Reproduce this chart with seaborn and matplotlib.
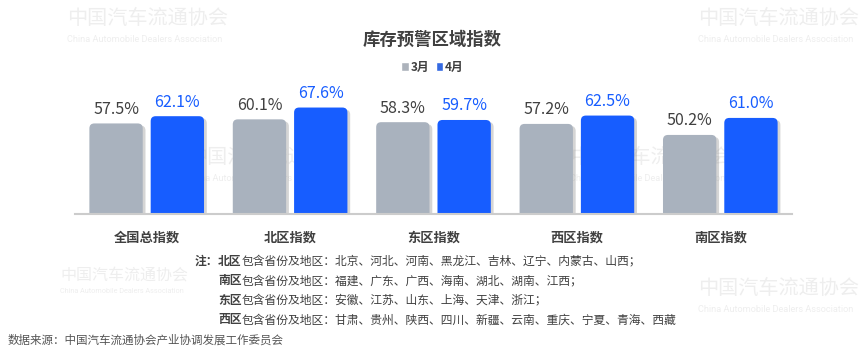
import numpy as np
import pandas as pd
import seaborn as sns
import matplotlib.pyplot as plt
from matplotlib.patches import FancyBboxPatch
import matplotlib.patheffects as pe

# data
regions = ["全国总指数", "北区指数", "东区指数", "西区指数", "南区指数"]
months = ["3月", "4月"]
march = [57.5, 60.1, 58.3, 57.2, 50.2]
april = [62.1, 67.6, 59.7, 62.5, 61.0]

title = "库存预警区域指数"
notes = [("北区", "包含省份及地区：北京、河北、河南、黑龙江、吉林、辽宁、内蒙古、山西；"),
         ("南区", "包含省份及地区：福建、广东、广西、海南、湖北、湖南、江西；"),
         ("东区", "包含省份及地区：安徽、江苏、山东、上海、天津、浙江；"),
         ("西区", "包含省份及地区：甘肃、贵州、陕西、四川、新疆、云南、重庆、宁夏、青海、西藏")]
source = "数据来源：中国汽车流通协会产业协调发展工作委员会"

GRAY = "#A9B2BE"
BLUE = "#175DFF"
DARK = "#404040"

df = pd.DataFrame({
    "region": regions * 2,
    "month": [months[0]] * len(regions) + [months[1]] * len(regions),
    "value": march + april,
})

sns.set_style("white")
plt.rcParams["font.family"] = ["Noto Sans CJK SC", "DejaVu Sans"]

W, H = 865, 356
fig = plt.figure(figsize=(W / 100, H / 100), dpi=100)
ax = fig.add_axes([75 / W, 1 - 214 / H, (792 - 75) / W, (214 - 88) / H])
ax.set_facecolor("none")

sns.barplot(data=df, x="region", y="value", hue="month", order=regions,
            hue_order=months, palette=[GRAY, BLUE], width=0.855, gap=0.13,
            ax=ax)
ax.set_xlim(-0.5, len(regions) - 0.5)
ax.set_ylim(0, 80)

# rounded bars with soft shadow
fig.canvas.draw()
bb = ax.get_window_extent()
px_x = bb.width / (ax.get_xlim()[1] - ax.get_xlim()[0])
px_y = bb.height / (ax.get_ylim()[1] - ax.get_ylim()[0])
r = 5 / px_x
for cont, col in zip(ax.containers, [GRAY, BLUE]):
    for bar in cont:
        x0, w, h = bar.get_x(), bar.get_width(), bar.get_height()
        fb = FancyBboxPatch((x0, -10), w, h + 10,
                            boxstyle=f"round,pad=0,rounding_size={r}",
                            mutation_aspect=px_x / px_y,
                            facecolor=col, edgecolor="none", zorder=2)
        fb.set_path_effects([pe.SimplePatchShadow(offset=(2, -1.5), shadow_rgbFace="#888888", alpha=0.35),
                             pe.Normal()])
        ax.add_patch(fb)
        bar.set_visible(False)
    ax.bar_label(cont, labels=[f"{v:.1f}%" for v in cont.datavalues], padding=4,
                 fontsize=11.5, color=DARK if col == GRAY else BLUE)

# axis styling
sns.despine(ax=ax, left=True)
ax.spines["bottom"].set_color("#CCCCCC")
ax.spines["bottom"].set_linewidth(1.5)
ax.set_yticks([])
ax.set_xlabel("")
ax.set_ylabel("")
ax.set_xticks(np.arange(-0.5, len(regions)), minor=True)
ax.tick_params(axis="x", which="minor", length=4, color="#CCCCCC", width=1.2, direction="out")
ax.tick_params(axis="x", which="major", length=0, pad=12)
for lbl in ax.get_xticklabels():
    lbl.set_fontweight("bold")
    lbl.set_fontsize(9.5)
    lbl.set_color(DARK)

sns.move_legend(ax, "center", bbox_to_anchor=(0.5, 1 - 67 / H), bbox_transform=fig.transFigure,
                ncol=2, title=None, frameon=False, prop={"weight": "bold", "size": 8.5},
                handlelength=0.6, handleheight=0.9, handletextpad=0.15, columnspacing=0.6)
for t in ax.get_legend().get_texts():
    t.set_color(DARK)

fig.text(432.5 / W, 1 - 40 / H, title, ha="center", va="center", fontsize=12.5,
         fontweight="bold", color=DARK)

# watermarks (x, y, size)
for wx, wy, ws in [(67, 18, 14.5), (698, 18, 14.5), (187, 157, 14.5),
                   (570, 157, 14.5), (60, 275, 11.5), (698, 288, 14.5)]:
    fig.text(wx / W, 1 - wy / H, "中国汽车流通协会", fontsize=ws, color="#EEEEEE",
             va="center", ha="left", zorder=-5)
    fig.text(wx / W, 1 - (wy + ws * 1.45) / H, "China Automobile Dealers Association",
             fontsize=ws * 0.455, color="#EEEEEE", va="center", ha="left", zorder=-5,
             family=["Roboto", "DejaVu Sans"])

# notes
fig.text(218 / W, 1 - 261 / H, "注：", ha="right", va="center", fontsize=8.5,
         fontweight="bold", color=DARK)
for i, (reg, rest) in enumerate(notes):
    y = 1 - (261 + i * 19.6) / H
    t = fig.text(218 / W, y, reg, ha="left", va="center", fontsize=8.5,
                 fontweight="bold", color=DARK)
    ax.annotate(rest, xy=(1, 0), xycoords=t, ha="left", va="bottom", fontsize=8.5,
                color=DARK, annotation_clip=False)

fig.text(8 / W, 1 - 340 / H, source, ha="left", va="center", fontsize=8.3, color="#555555")

fig.savefig("out.png", dpi=100)
